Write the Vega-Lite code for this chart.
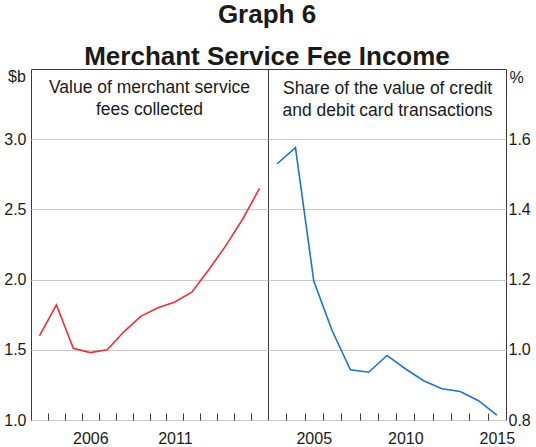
{
  "$schema": "https://vega.github.io/schema/vega-lite/v6.json",
  "padding": {"left": 3, "top": 1, "right": 0, "bottom": 0},
  "title": {
    "text": "Graph 6",
    "subtitle": "Merchant Service Fee Income",
    "fontSize": 26,
    "subtitleFontSize": 26,
    "subtitleFontWeight": "bold",
    "subtitleColor": "#1a1a1a",
    "color": "#1a1a1a",
    "anchor": "middle",
    "subtitlePadding": 16,
    "offset": -2,
    "font": "Liberation Sans",
    "subtitleFont": "Liberation Sans"
  },
  "config": {
    "font": "Liberation Sans",
    "view": {"stroke": "#3a3a3a", "strokeWidth": 1},
    "axis": {"labelFontSize": 16, "labelColor": "#1a1a1a", "gridColor": "#c9c9c9", "gridWidth": 1, "labelFont": "Liberation Sans", "titleFont": "Liberation Sans", "titleColor": "#1a1a1a"}
  },
  "hconcat": [
    {
      "width": 237,
      "height": 351,
      "layer": [
        {
          "data": {"values": [
            {"year": 2003.5, "value": 1.60},
            {"year": 2004.5, "value": 1.82},
            {"year": 2005.5, "value": 1.51},
            {"year": 2006.5, "value": 1.48},
            {"year": 2007.5, "value": 1.50},
            {"year": 2008.5, "value": 1.63},
            {"year": 2009.5, "value": 1.74},
            {"year": 2010.5, "value": 1.80},
            {"year": 2011.5, "value": 1.84},
            {"year": 2012.5, "value": 1.91},
            {"year": 2013.5, "value": 2.07},
            {"year": 2014.5, "value": 2.24},
            {"year": 2015.5, "value": 2.43},
            {"year": 2016.5, "value": 2.65}
          ]},
          "mark": {"type": "line", "color": "#e8313a", "strokeWidth": 1.6},
          "encoding": {
            "x": {"field": "year", "type": "quantitative",
              "scale": {"domain": [2003, 2017], "nice": false, "zero": false},
              "axis": {"values": [2004, 2005, 2006, 2007, 2008, 2009, 2010, 2011, 2012, 2013, 2014, 2015, 2016],
                "tickSize": -7, "tickColor": "#3a3a3a", "labelExpr": "datum.value == 2006 || datum.value == 2011 ? datum.value : ''",
                "labelOffset": 8.5, "labelPadding": 17.5, "labelFlush": false, "labelOverlap": false, "labelBaseline": "top",
                "grid": false, "domain": false, "title": null}},
            "y": {"field": "value", "type": "quantitative",
              "scale": {"domain": [1, 3.5], "nice": false, "zero": false},
              "axis": {"values": [1, 1.5, 2, 2.5, 3], "format": ".1f", "ticks": false, "labelPadding": 5, "domain": false, "grid": true,
                "title": "$b", "titleAngle": 0, "titleX": -14.5, "titleY": 7, "titleAlign": "center", "titleBaseline": "middle",
                "titleFontWeight": "normal", "titleFontSize": 16}}
          }
        },
        {
          "data": {"values": [{"label": ["Value of merchant service", "fees collected"]}]},
          "mark": {"type": "text", "fontSize": 17.5, "baseline": "top", "align": "center", "lineHeight": 22, "color": "#1a1a1a"},
          "encoding": {
            "x": {"datum": 2010, "type": "quantitative",
              "axis": {"values": [2004, 2005, 2006, 2007, 2008, 2009, 2010, 2011, 2012, 2013, 2014, 2015, 2016],
                "tickSize": -7, "tickColor": "#3a3a3a", "labelExpr": "datum.value == 2006 || datum.value == 2011 ? datum.value : ''",
                "labelOffset": 8.5, "labelPadding": 17.5, "labelFlush": false, "labelOverlap": false, "labelBaseline": "top",
                "grid": false, "domain": false, "title": null}},
            "y": {"datum": 3.43, "type": "quantitative",
              "axis": {"values": [1, 1.5, 2, 2.5, 3], "format": ".1f", "ticks": false, "labelPadding": 5, "domain": false, "grid": true,
                "title": "$b", "titleAngle": 0, "titleX": -14.5, "titleY": 7, "titleAlign": "center", "titleBaseline": "middle",
                "titleFontWeight": "normal", "titleFontSize": 16}},
            "text": {"field": "label"}
          }
        }
      ]
    },
    {
      "width": 238,
      "height": 351,
      "layer": [
        {
          "data": {"values": [
            {"year": 2003.5, "value": 1.530},
            {"year": 2004.5, "value": 1.576},
            {"year": 2005.5, "value": 1.196},
            {"year": 2006.5, "value": 1.055},
            {"year": 2007.5, "value": 0.943},
            {"year": 2008.5, "value": 0.936},
            {"year": 2009.5, "value": 0.984},
            {"year": 2010.5, "value": 0.946},
            {"year": 2011.5, "value": 0.912},
            {"year": 2012.5, "value": 0.889},
            {"year": 2013.5, "value": 0.881},
            {"year": 2014.5, "value": 0.855},
            {"year": 2015.5, "value": 0.814}
          ]},
          "mark": {"type": "line", "color": "#1b75c2", "strokeWidth": 1.6},
          "encoding": {
            "x": {"field": "year", "type": "quantitative",
              "scale": {"domain": [2003, 2016], "nice": false, "zero": false},
              "axis": {"values": [2004, 2005, 2006, 2007, 2008, 2009, 2010, 2011, 2012, 2013, 2014, 2015],
                "tickSize": -7, "tickColor": "#3a3a3a", "labelExpr": "datum.value == 2005 || datum.value == 2010 || datum.value == 2015 ? datum.value : ''",
                "labelOffset": 9.15, "labelPadding": 17.5, "labelFlush": false, "labelOverlap": false, "labelBaseline": "top",
                "grid": false, "domain": false, "title": null}},
            "y": {"field": "value", "type": "quantitative",
              "scale": {"domain": [0.8, 1.8], "nice": false, "zero": false},
              "axis": {"orient": "right", "values": [0.8, 1.0, 1.2, 1.4, 1.6], "format": ".1f", "ticks": false, "labelPadding": 2, "domain": false, "grid": true,
                "title": "%", "titleAngle": 0, "titleX": 10, "titleY": 8, "titleAlign": "center", "titleBaseline": "middle",
                "titleFontWeight": "normal", "titleFontSize": 16}}
          }
        },
        {
          "data": {"values": [{"label": ["Share of the value of credit", "and debit card transactions"]}]},
          "mark": {"type": "text", "fontSize": 17.5, "baseline": "top", "align": "center", "lineHeight": 22, "color": "#1a1a1a"},
          "encoding": {
            "x": {"datum": 2009.53, "type": "quantitative",
              "axis": {"values": [2004, 2005, 2006, 2007, 2008, 2009, 2010, 2011, 2012, 2013, 2014, 2015],
                "tickSize": -7, "tickColor": "#3a3a3a", "labelExpr": "datum.value == 2005 || datum.value == 2010 || datum.value == 2015 ? datum.value : ''",
                "labelOffset": 9.15, "labelPadding": 17.5, "labelFlush": false, "labelOverlap": false, "labelBaseline": "top",
                "grid": false, "domain": false, "title": null}},
            "y": {"datum": 1.77, "type": "quantitative",
              "axis": {"orient": "right", "values": [0.8, 1.0, 1.2, 1.4, 1.6], "format": ".1f", "ticks": false, "labelPadding": 2, "domain": false, "grid": true,
                "title": "%", "titleAngle": 0, "titleX": 10, "titleY": 8, "titleAlign": "center", "titleBaseline": "middle",
                "titleFontWeight": "normal", "titleFontSize": 16}},
            "text": {"field": "label"}
          }
        }
      ]
    }
  ],
  "spacing": 0,
  "bounds": "flush"
}
